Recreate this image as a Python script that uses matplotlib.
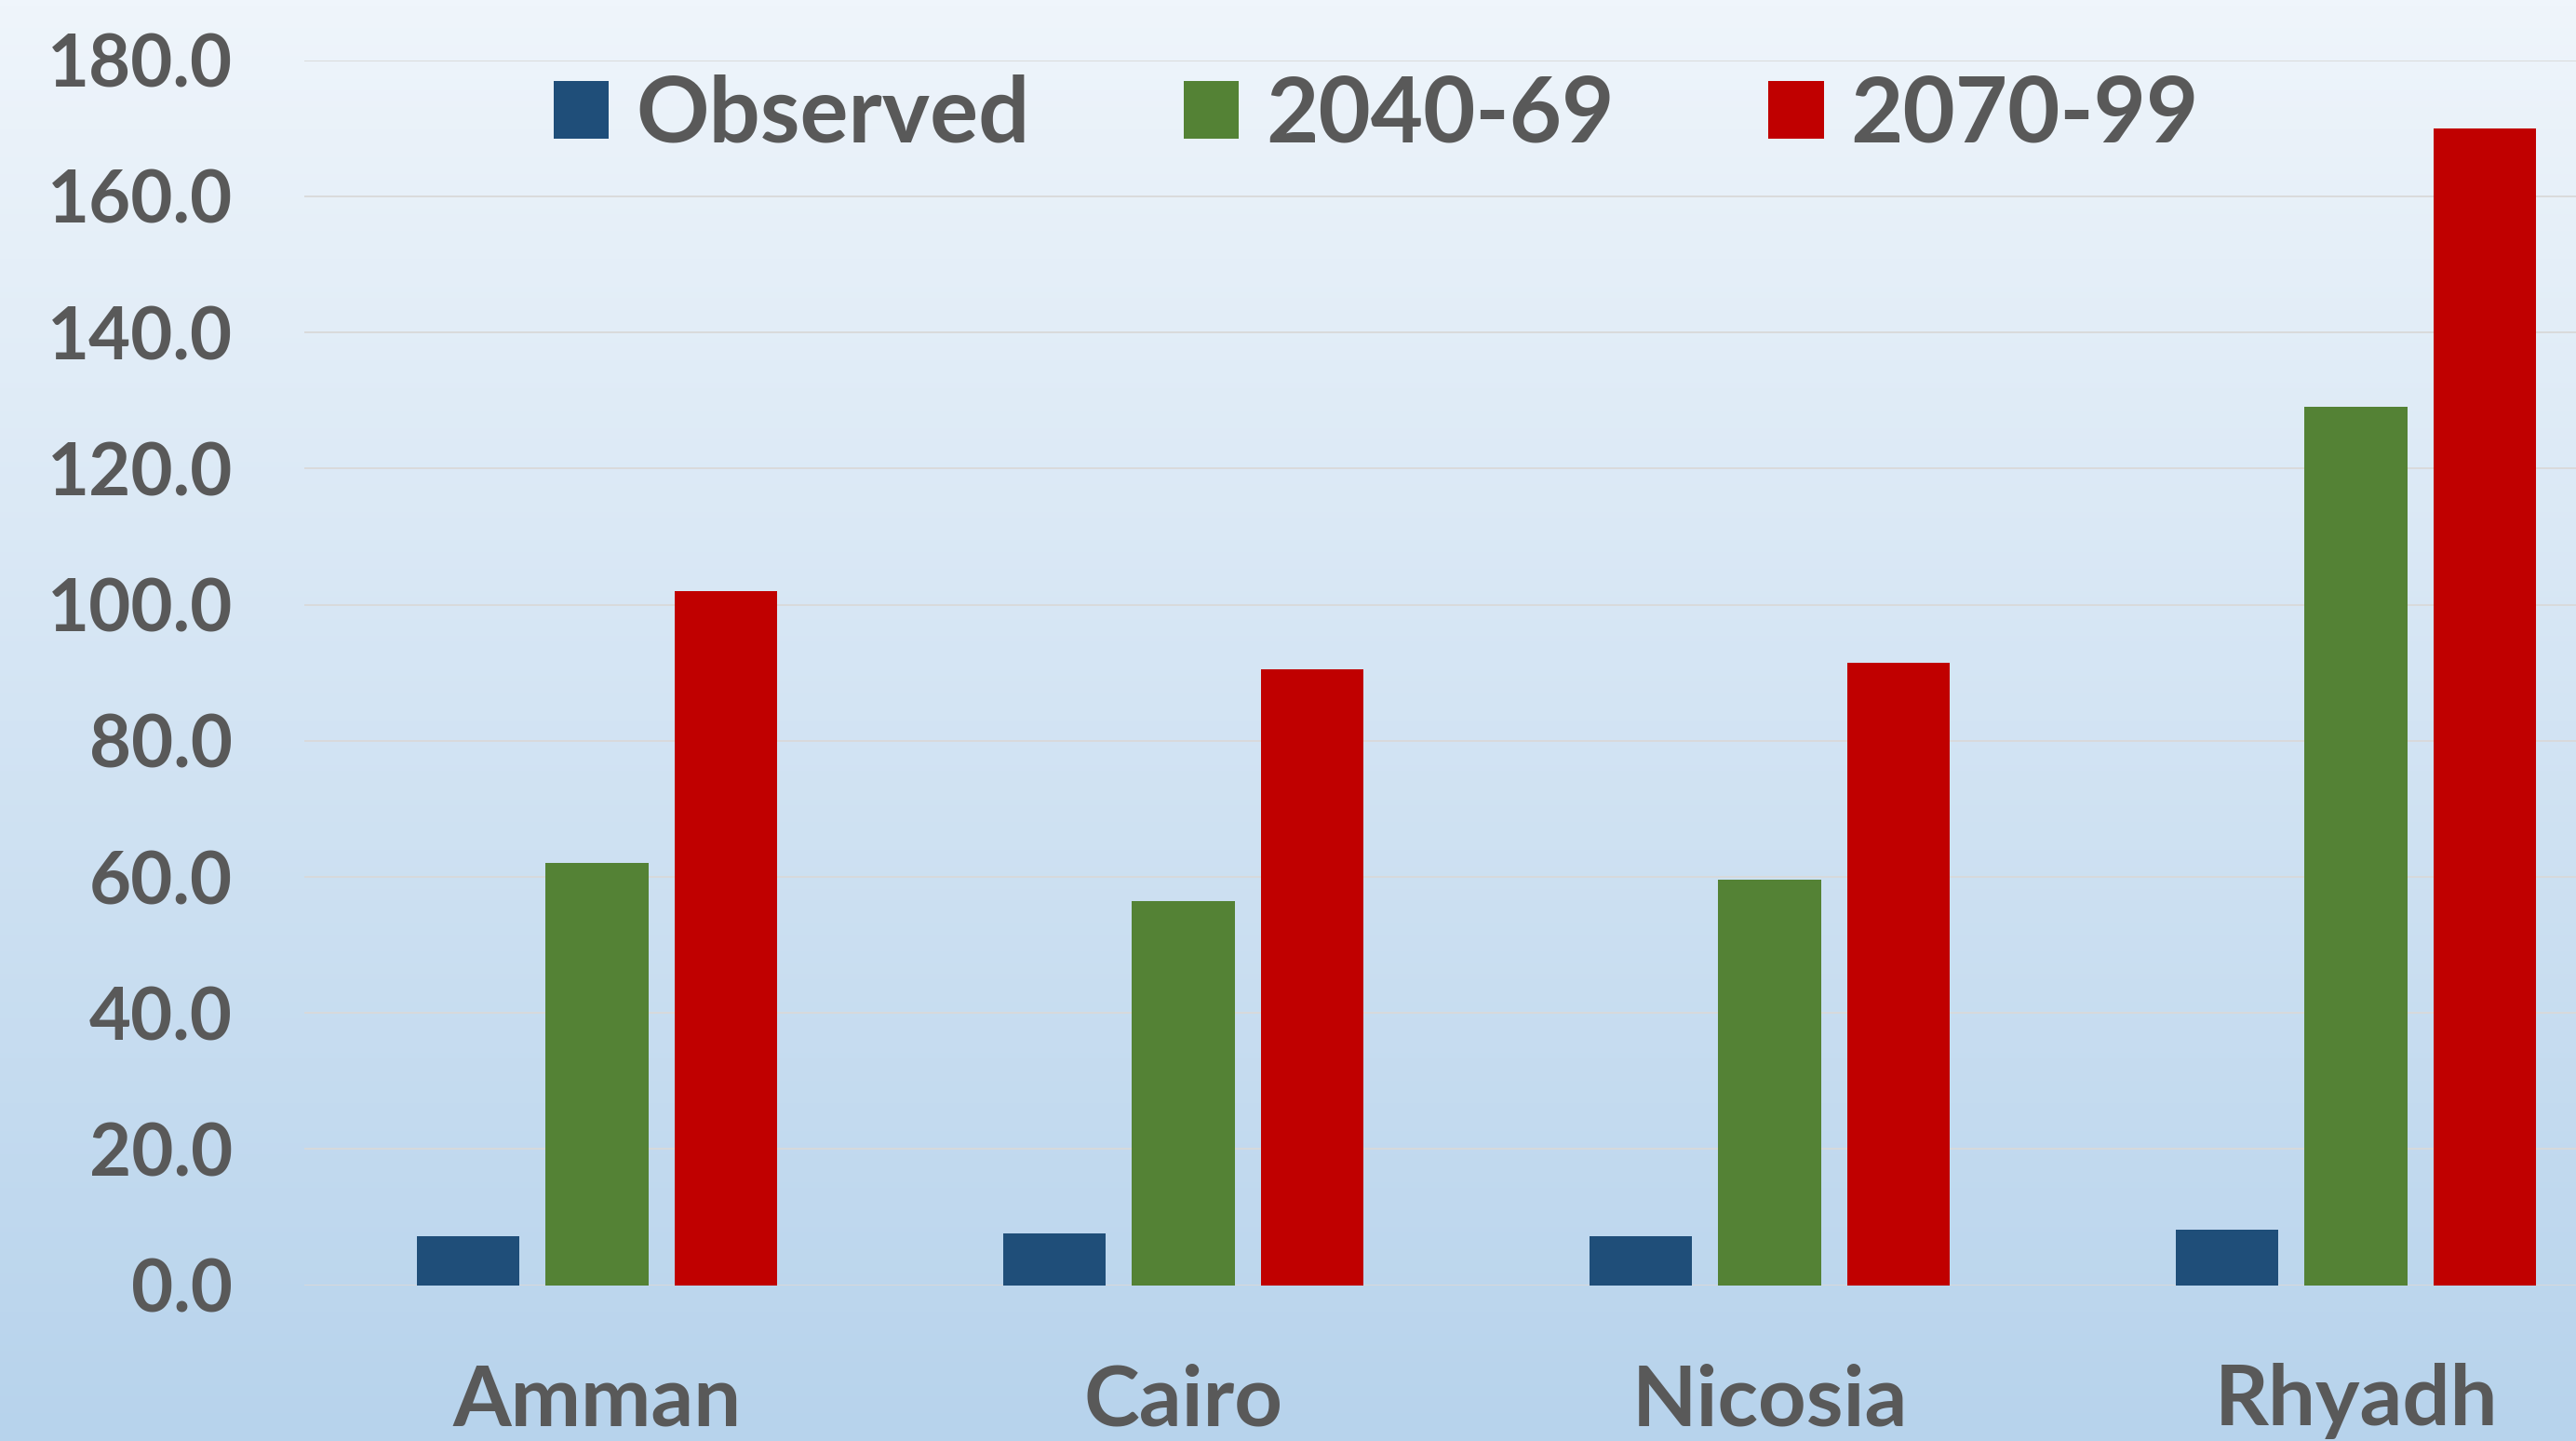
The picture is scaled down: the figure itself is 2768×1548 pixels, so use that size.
import numpy as np
import matplotlib
matplotlib.use("Agg")
import matplotlib.pyplot as plt
from matplotlib.ticker import FormatStrFormatter

# values
cities = ["Amman", "Cairo", "Nicosia", "Rhyadh"]
observed = [7.2, 7.6, 7.2, 8.1]
p2040_69 = [62.0, 56.5, 59.6, 129.1]
p2070_99 = [102.0, 90.5, 91.5, 170.0]
series_names = ["Observed", "2040-69", "2070-99"]
colors = ["#1F4E79", "#548235", "#C00000"]

plt.rcParams["font.family"] = ["Lato", "DejaVu Sans"]
plt.rcParams["font.weight"] = "bold"
text_color = "#595959"

fig = plt.figure(figsize=(27.68, 15.48), dpi=100)

# background gradient, light at the top, blue at the bottom
bg = fig.add_axes([0, 0, 1, 1], zorder=-10)
top = np.array([239, 245, 251]) / 255
bottom = np.array([183, 211, 236]) / 255
t = np.linspace(0, 1, 256)[:, None]
grad = top + (bottom - top) * t
bg.imshow(grad[:, None, :], aspect="auto", extent=[0, 1, 0, 1])
bg.axis("off")

# plot area runs past the right edge, like the cropped original
ax = fig.add_axes([326.6 / 2768, 1 - 1380.7 / 1548, 2520 / 2768, 1316 / 1548])
ax.set_facecolor("none")

x = np.arange(len(cities))
width = 0.175
offset = 0.22
for i, (vals, name, c) in enumerate(zip([observed, p2040_69, p2070_99], series_names, colors)):
    ax.bar(x + (i - 1) * offset, vals, width, color=c, label=name, zorder=3)

ax.set_xlim(-0.5, len(cities) - 0.5)
ax.set_ylim(0, 180)
ax.set_yticks(np.arange(0, 181, 20))
ax.yaxis.set_major_formatter(FormatStrFormatter("%.1f"))
ax.set_xticks(x)
ax.set_xticklabels(cities)

ax.grid(axis="y", color="#d9d9d9", linewidth=1.3, zorder=0)
ax.axhline(0, color="#d9d9d9", linewidth=1.8, zorder=2)
for s in ax.spines.values():
    s.set_visible(False)
ax.tick_params(axis="y", length=0, pad=55, labelsize=56, labelcolor=text_color)
ax.tick_params(axis="x", length=0, pad=60, labelsize=65, labelcolor=text_color)
for lab in ax.get_xticklabels() + ax.get_yticklabels():
    lab.set_fontweight("bold")

leg = ax.legend(loc="center left", bbox_to_anchor=(595 / 2768, 1 - 124 / 1548),
                bbox_transform=fig.transFigure, ncol=3, frameon=False,
                fontsize=70, handlelength=0.61, handleheight=0.61,
                handletextpad=0.3, columnspacing=1.7, borderpad=0, borderaxespad=0)
for txt in leg.get_texts():
    txt.set_color(text_color)
    txt.set_fontweight("bold")

fig.savefig("out.png", dpi=100)
